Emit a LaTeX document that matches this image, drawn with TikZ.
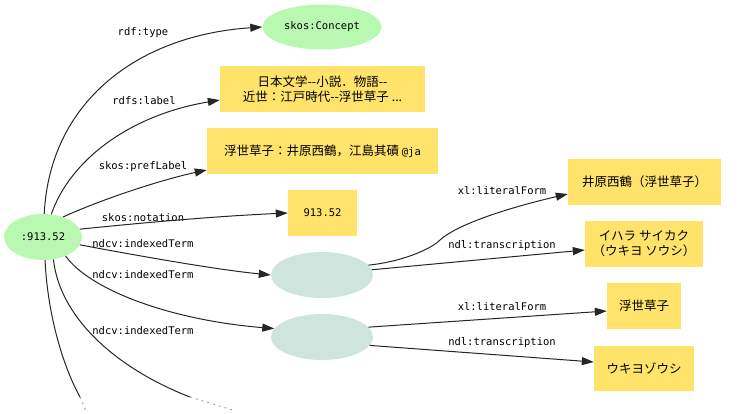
\documentclass[tikz,border=0pt]{standalone}
\usepackage{fontspec}
\setmainfont{DejaVu Sans Mono}
\newfontfamily\cjk{Noto Sans CJK JP}
\usetikzlibrary{shapes.geometric,arrows.meta}
\definecolor{litgreen}{HTML}{B8F8B0}
\definecolor{boxyellow}{HTML}{FFE36A}
\definecolor{blanknode}{HTML}{CDE5DC}
\tikzset{
  res/.style={ellipse, fill=litgreen, inner sep=0pt, font=\fontsize{10.5}{12}\selectfont},
  blank/.style={ellipse, fill=blanknode, inner sep=0pt, minimum width=102pt, minimum height=46pt},
  lit/.style={rectangle, fill=boxyellow, inner sep=0pt, align=center, font=\cjk\fontsize{12.5}{15}\selectfont},
  elabel/.style={inner sep=0pt, font=\fontsize{10.5}{12}\selectfont},
  conn/.style={line width=1pt, draw=black!85, -{Triangle[length=12pt,width=8pt]}},
  plainconn/.style={line width=1pt, draw=black!85},
  fadeconn/.style={line width=1pt, draw=black!35, dash pattern=on 2pt off 4pt},
}
\begin{document}
\begin{tikzpicture}[x=1pt,y=-1pt]
\useasboundingbox (0,0) rectangle (740,413);
% nodes
\node[res, minimum width=78pt, minimum height=46pt] (s) at (43,237) {:913.52};
\node[res, minimum width=119pt, minimum height=45pt] (concept) at (322,27) {skos:Concept};
\node[lit, minimum width=205pt, minimum height=46pt] (label) at (322.5,89) {日本文学--小説．物語--\\近世：江戸時代--浮世草子 ...};
\node[lit, minimum width=231pt, minimum height=46pt] (pref) at (322.5,151) {浮世草子：井原西鶴，江島其磧 {\rmfamily\fontsize{10.5}{12}\selectfont @ja}};
\node[lit, minimum width=69pt, minimum height=46pt, font=\fontsize{10.5}{12}\selectfont] (nota) at (322.5,213) {913.52};
\node[blank] (b1) at (322,275) {};
\node[blank] (b2) at (322,337) {};
\node[lit, minimum width=153pt, minimum height=46pt] (lf1) at (644.5,182) {井原西鶴（浮世草子）};
\node[lit, minimum width=118pt, minimum height=46pt] (tr1) at (644,244) {イハラ サイカク\\（ウキヨ ソウシ）};
\node[lit, minimum width=74pt, minimum height=46pt] (lf2) at (644,306) {浮世草子};
\node[lit, minimum width=100pt, minimum height=45pt] (tr2) at (644,368.5) {ウキヨゾウシ};
\coordinate (cut1) at (86,411);
\coordinate (cut2) at (236,411);
% edge labels
\node[elabel] (l1) at (143,33) {rdf:type};
\node[elabel] (l2) at (144,101) {rdfs:label};
\node[elabel] (l3) at (143,167) {skos:prefLabel};
\node[elabel] (l4) at (143,218) {skos:notation};
\node[elabel] (l5) at (143,244) {ndcv:indexedTerm};
\node[elabel] (l6) at (143,275) {ndcv:indexedTerm};
\node[elabel] (l7) at (143,331) {ndcv:indexedTerm};
\node[elabel] (l8) at (502,191) {xl:literalForm};
\node[elabel] (l9) at (502,246) {ndl:transcription};
\node[elabel] (l10) at (502,307) {xl:literalForm};
\node[elabel] (l11) at (502,343) {ndl:transcription};
% connectors
\draw[conn] (s.87) .. controls (50,100) and (140,35) .. (concept.west);
\draw[conn] (s.70) .. controls (70,160) and (130,115) .. (label.west |- 0,100);
\draw[conn] (s.45) .. controls (100,200) and (160,180) .. (pref.west |- 0,170);
\draw[conn] (s.12) .. controls (150,222) and (220,216) .. (nota.west);
\draw[conn] (s.-12) .. controls (150,258) and (220,270) .. (b1.west);
\draw[conn] (s.-40) .. controls (90,290) and (170,320) .. (b2.170);
\draw[plainconn] (s.-65) .. controls (60,320) and (120,370) .. (190,397);
\draw[fadeconn] (190,397) -- (cut2);
\draw[plainconn] (s.-85) .. controls (48,320) and (65,370) .. (80,397);
\draw[fadeconn] (80,397) -- (cut1);
\draw[conn] (b1.12) .. controls (400,262) and (430,250) .. (440,240) .. controls (460,222) and (520,205) .. (lf1.west |- 0,194);
\draw[conn] (b1.6) -- (tr1.west |- 0,250);
\draw[conn] (b2.12) -- (lf2.west |- 0,311);
\draw[conn] (b2.-10) -- (tr2.west |- 0,362);
\end{tikzpicture}
\end{document}
